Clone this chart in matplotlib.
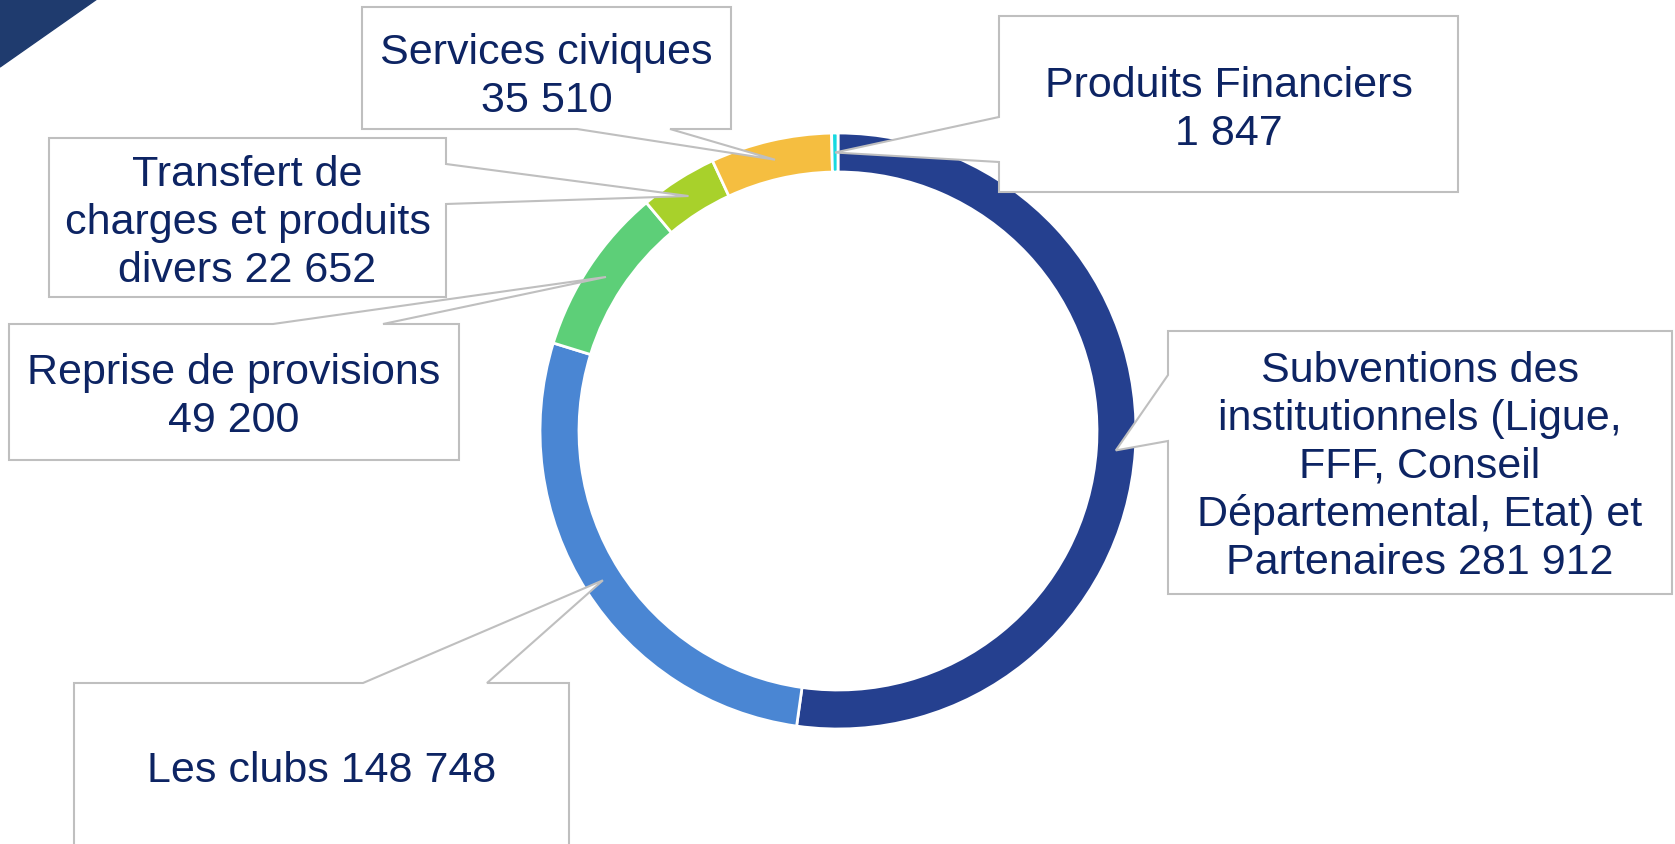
import matplotlib
matplotlib.use('Agg')
import matplotlib.pyplot as plt
import numpy as np
from matplotlib.patches import Polygon

plt.rcParams['font.family'] = ['Liberation Sans', 'DejaVu Sans']

# data
labels = ['Subventions des\ninstitutionnels (Ligue,\nFFF, Conseil\nDépartemental, Etat) et\nPartenaires 281 912',
          'Les clubs 148 748',
          'Reprise de provisions\n49 200',
          'Transfert de\ncharges et produits\ndivers 22 652',
          'Services civiques\n35 510',
          'Produits Financiers\n1 847']
values = [281912, 148748, 49200, 22652, 35510, 1847]
colors = ['#25408F', '#4A86D3', '#5DCF78', '#A8D12B', '#F5BE40', '#16D9E0']

# callout boxes (pixel coords, y down): x0, y0, x1, y1
boxes = [(1168, 332, 1672, 595),
         (74, 684, 569, 850),
         (9, 325, 459, 461),
         (49, 139, 446, 298),
         (362, 8, 731, 130),
         (999, 17, 1458, 193)]
sides = ['left', 'top', 'top', 'right', 'bottom', 'left']
bases = [(376, 442), (363, 487), (273, 383), (165, 205), (577, 670), (118, 163)]
text_y = [467, 771, 397, 223, 77, 110]

W, H = 1675, 845
cx, cy, R, ring = 838, 432, 298, 39
navy = '#0D2463'

fig = plt.figure(figsize=(W / 100, H / 100), dpi=100)
ax = fig.add_axes([0, 0, 1, 1])

ax.pie(values, colors=colors, startangle=90, counterclock=False, radius=R,
       center=(cx, H - cy),
       wedgeprops=dict(width=ring, edgecolor='white', linewidth=2))

# corner decoration
ax.fill([0, 97, 0], [H, H, H - 68], color='#1F3B6E', zorder=1)

# label anchors at middle of each wedge
total = sum(values)
cum = np.cumsum([0] + values)
r_mid = R - ring / 2
for i, lab in enumerate(labels):
    theta = np.deg2rad((cum[i] + values[i] / 2) / total * 360)
    tip = (cx + r_mid * np.sin(theta), cy - r_mid * np.cos(theta))
    x0, y0, x1, y1 = boxes[i]
    a, b = bases[i]
    if sides[i] == 'top':
        pts = [(x0, y0), (a, y0), tip, (b, y0), (x1, y0), (x1, y1), (x0, y1)]
    elif sides[i] == 'bottom':
        pts = [(x0, y0), (x1, y0), (x1, y1), (b, y1), tip, (a, y1), (x0, y1)]
    elif sides[i] == 'left':
        pts = [(x0, y0), (x1, y0), (x1, y1), (x0, y1), (x0, b), tip, (x0, a)]
    else:
        pts = [(x0, y0), (x1, y0), (x1, a), tip, (x1, b), (x1, y1), (x0, y1)]
    pts = [(p[0], H - p[1]) for p in pts]
    ax.add_patch(Polygon(pts, closed=True, facecolor='white', edgecolor='#BFBFBF',
                         linewidth=1.5, zorder=3))
    ax.text((x0 + x1) / 2, H - text_y[i], lab, ha='center', va='center',
            fontsize=31, color=navy, linespacing=1.25, zorder=4)

ax.set_xlim(0, W)
ax.set_ylim(0, H)
ax.set_aspect('equal')
ax.axis('off')

fig.savefig('out.png', dpi=100, facecolor='white')
